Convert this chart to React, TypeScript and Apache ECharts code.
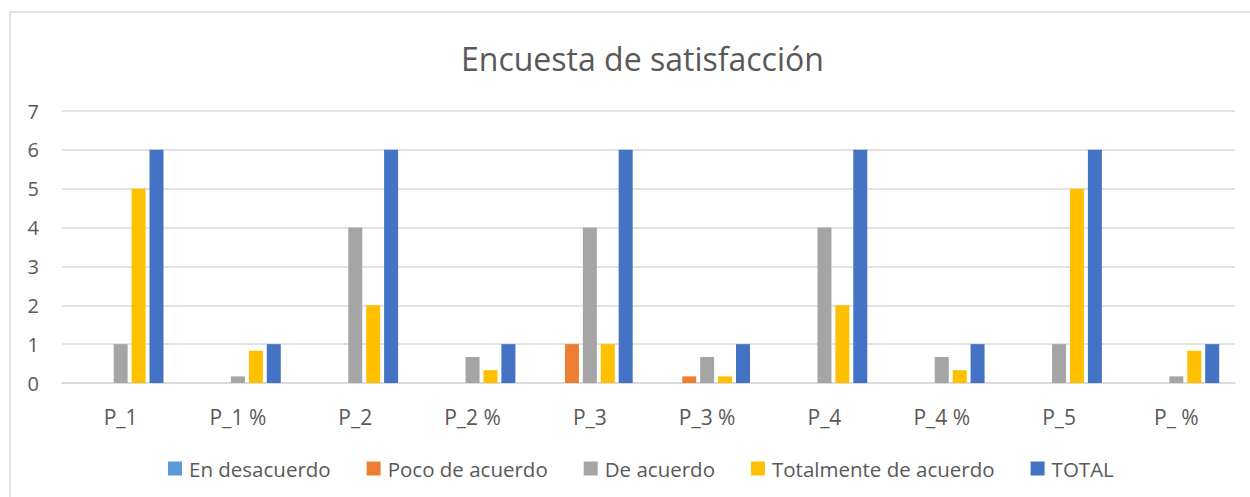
import React, { useEffect, useRef } from "react";
import * as echarts from "echarts";

const categories = ["P_1", "P_1 %", "P_2", "P_2 %", "P_3", "P_3 %", "P_4", "P_4 %", "P_5", "P_ %"];
const seriesNames = ["En desacuerdo", "Poco de acuerdo", "De acuerdo", "Totalmente de acuerdo", "TOTAL"];
const enDesacuerdo = [0, 0, 0, 0, 0, 0, 0, 0, 0, 0];
const pocoDeAcuerdo = [0, 0, 0, 0, 1, 0.17, 0, 0, 0, 0];
const deAcuerdo = [1, 0.17, 4, 0.67, 4, 0.67, 4, 0.67, 1, 0.17];
const totalmenteDeAcuerdo = [5, 0.83, 2, 0.33, 1, 0.17, 2, 0.33, 5, 0.83];
const total = [6, 1, 6, 1, 6, 1, 6, 1, 6, 1];
const colors = ["#5B9BD5", "#ED7D31", "#A5A5A5", "#FFC000", "#4472C4"];

const FONT = "'Open Sans', 'Noto Sans', sans-serif";
const TEXT = "#595959";

export default function App() {
  const ref = useRef<HTMLDivElement>(null);
  useEffect(() => {
    document.body.style.margin = "0";
    if (!ref.current) return;
    const chart = echarts.init(ref.current, null, { renderer: "svg" });
    const data = [enDesacuerdo, pocoDeAcuerdo, deAcuerdo, totalmenteDeAcuerdo, total];
    chart.setOption({
      animation: false,
      backgroundColor: "#ffffff",
      color: colors,
      title: {
        text: "Encuesta de satisfacción",
        left: 456,
        top: 37,
        textStyle: { fontFamily: FONT, fontSize: 32, fontWeight: "normal", color: TEXT },
      },
      graphic: [
        {
          type: "rect",
          shape: { x: 10, y: 12, width: 1260, height: 520 },
          style: { fill: "none", stroke: "#d9d9d9", lineWidth: 1.5 },
          silent: true,
        },
      ],
      legend: {
        bottom: 13,
        left: 163,
        itemWidth: 14,
        itemHeight: 14,
        itemGap: 36,
        icon: "rect",
        textStyle: { fontFamily: FONT, fontSize: 20.5, color: TEXT, padding: [0, 0, 0, 2] },
        data: seriesNames,
      },
      grid: { left: 62, right: 15, top: 111, bottom: 114, containLabel: false },
      xAxis: {
        type: "category",
        data: categories,
        axisLine: { lineStyle: { color: "#d9d9d9", width: 1.5 } },
        axisTick: { show: false },
        axisLabel: { fontFamily: FONT, fontSize: 21, color: TEXT, margin: 23 },
      },
      yAxis: {
        type: "value",
        min: 0,
        max: 7,
        interval: 1,
        axisLine: { show: false },
        axisTick: { show: false },
        splitLine: { lineStyle: { color: "#d9d9d9", width: 1.5 } },
        axisLabel: { fontFamily: FONT, fontSize: 20, color: TEXT, margin: 23 },
      },
      series: seriesNames.map((name, i) => ({
        name,
        type: "bar",
        data: data[i],
        barWidth: 14,
        barGap: "28%",
        itemStyle: { color: colors[i] },
      })),
    });
    return () => chart.dispose();
  }, []);
  return <div ref={ref} style={{ width: 1250, height: 497 }} />;
}
